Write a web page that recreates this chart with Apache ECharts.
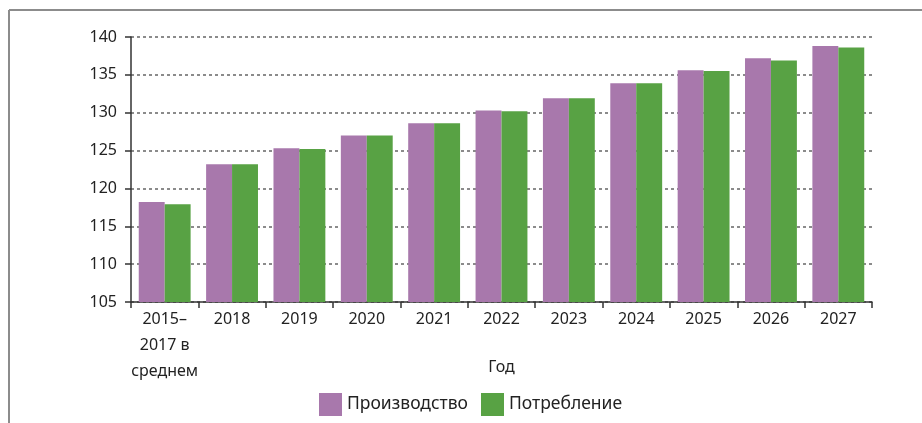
<!DOCTYPE html>
<html>
<head>
<meta charset="utf-8">
<script src="https://cdn.jsdelivr.net/npm/echarts@6/dist/echarts.min.js"></script>
<style>
  html, body { margin: 0; padding: 0; background: #fff; }
  #chart { width: 922px; height: 423px; }
</style>
</head>
<body>
<div id="chart"></div>
<script>
const categories = ['2015–\n2017 в\nсреднем', '2018', '2019', '2020', '2021', '2022', '2023', '2024', '2025', '2026', '2027'];
const production = [118.2, 123.2, 125.3, 127.0, 128.6, 130.3, 131.9, 133.9, 135.6, 137.2, 138.8];
const consumption = [117.9, 123.2, 125.2, 127.0, 128.6, 130.2, 131.9, 133.9, 135.5, 136.9, 138.6];
const seriesNames = ['Производство', 'Потребление'];
const axisName = 'Год';

const font = '"Noto Sans", sans-serif';
const textColor = '#222';

const chart = echarts.init(document.getElementById('chart'));
chart.setOption({
  animation: false,
  textStyle: { fontFamily: font },
  graphic: [
    // frame lines, top and left only
    { type: 'line', shape: { x1: 9, y1: 10, x2: 922, y2: 10 }, style: { stroke: '#8c8c8c', lineWidth: 2 } },
    { type: 'line', shape: { x1: 9, y1: 10, x2: 9, y2: 423 }, style: { stroke: '#8c8c8c', lineWidth: 2 } }
  ],
  grid: { left: 131, right: 50, top: 37, bottom: 121 },
  legend: {
    data: seriesNames,
    top: 393,
    left: 319,
    padding: 0,
    itemWidth: 23,
    itemHeight: 23,
    itemGap: 13,
    icon: 'rect',
    textStyle: { fontSize: 17.5, color: textColor, fontFamily: font }
  },
  xAxis: {
    type: 'category',
    data: categories,
    name: axisName,
    nameLocation: 'middle',
    nameGap: 55,
    nameMoveOverlap: false,
    nameTextStyle: { fontSize: 16, color: textColor, fontFamily: font, lineHeight: 20 },
    axisLine: { lineStyle: { color: '#333', width: 1.5 } },
    axisTick: { show: true, length: 6, lineStyle: { color: '#333', width: 1.5 } },
    axisLabel: { fontSize: 16, color: textColor, lineHeight: 26, margin: 4, interval: 0 }
  },
  yAxis: {
    type: 'value',
    min: 105,
    max: 140,
    interval: 5,
    axisLine: { show: true, lineStyle: { color: '#333', width: 1.5 } },
    axisTick: { show: true, length: 6, lineStyle: { color: '#333', width: 1.5 } },
    axisLabel: { fontSize: 16, color: textColor, margin: 14 },
    splitLine: { lineStyle: { color: '#666', width: 1.5, type: [3, 3] } }
  },
  series: [
    {
      name: seriesNames[0],
      type: 'bar',
      data: production,
      itemStyle: { color: '#a878ac' },
      barGap: '0%',
      barCategoryGap: '23%'
    },
    {
      name: seriesNames[1],
      type: 'bar',
      data: consumption,
      itemStyle: { color: '#58a244' }
    }
  ]
});
</script>
</body>
</html>
